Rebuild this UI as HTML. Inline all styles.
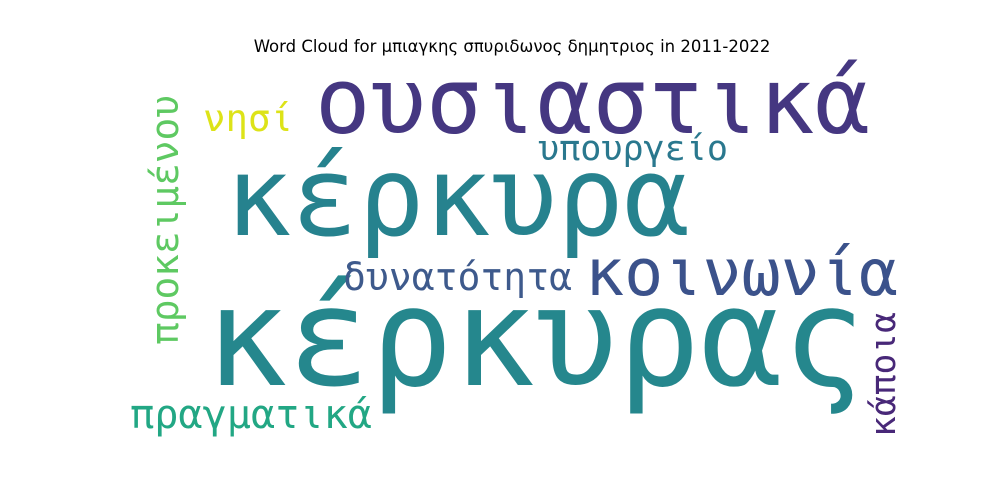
<!DOCTYPE html>
<html><head><meta charset="utf-8"><style>
html,body{margin:0;padding:0;background:#fff;}
svg{display:block;}
text{font-family:"DejaVu Sans Mono","Liberation Mono",monospace;}
</style></head><body>
<svg width="1000" height="500" viewBox="0 0 1000 500">
<rect width="1000" height="500" fill="#fff"/>
<text x="512" y="52" text-anchor="middle" font-size="16.5" style="font-family:'DejaVu Sans','Liberation Sans',sans-serif" fill="#000">Word Cloud for μπιαγκης σπυριδωνος δημητριος in 2011-2022</text>
<g id="words"></g>
</svg>
<script>
const words = ["ουσιαστικά","κέρκυρα","κέρκυρας","κοινωνία","δυνατότητα","υπουργείο","νησί","πραγματικά","προκειμένου","κάποια"];
const colors = ["#453781","#26828e","#25878d","#3b528b","#3e5a8c","#2a788e","#dde318","#22a784","#5ec962","#482878"];
const sizes = [92,110,137,65,38,35,37,40,38,35];
const g = document.getElementById('words');
const layout = [
 [315,133,555,0],[225,235,465,0],[205,385,660,0],[585,295,313,0],[343,290,229,0],
 [538,160,190,0],[203,131,90,0],[130,428,242,0],[178,345,250,1],[895,437,125,1]
];
words.forEach((w,i)=>{
  const t=document.createElementNS('http://www.w3.org/2000/svg','text');
  const L=layout[i];
  t.textContent=w;
  t.setAttribute('font-size',sizes[i]);
  t.setAttribute('fill',colors[i]);
  t.setAttribute('textLength',L[2]);
  t.setAttribute('lengthAdjust','spacingAndGlyphs');
  if(L[3]){t.setAttribute('transform',`translate(${L[0]},${L[1]}) rotate(-90)`);t.setAttribute('x',0);t.setAttribute('y',0);}
  else{t.setAttribute('x',L[0]);t.setAttribute('y',L[1]);}
  
  
  g.appendChild(t);
});
</script>
</body></html>
